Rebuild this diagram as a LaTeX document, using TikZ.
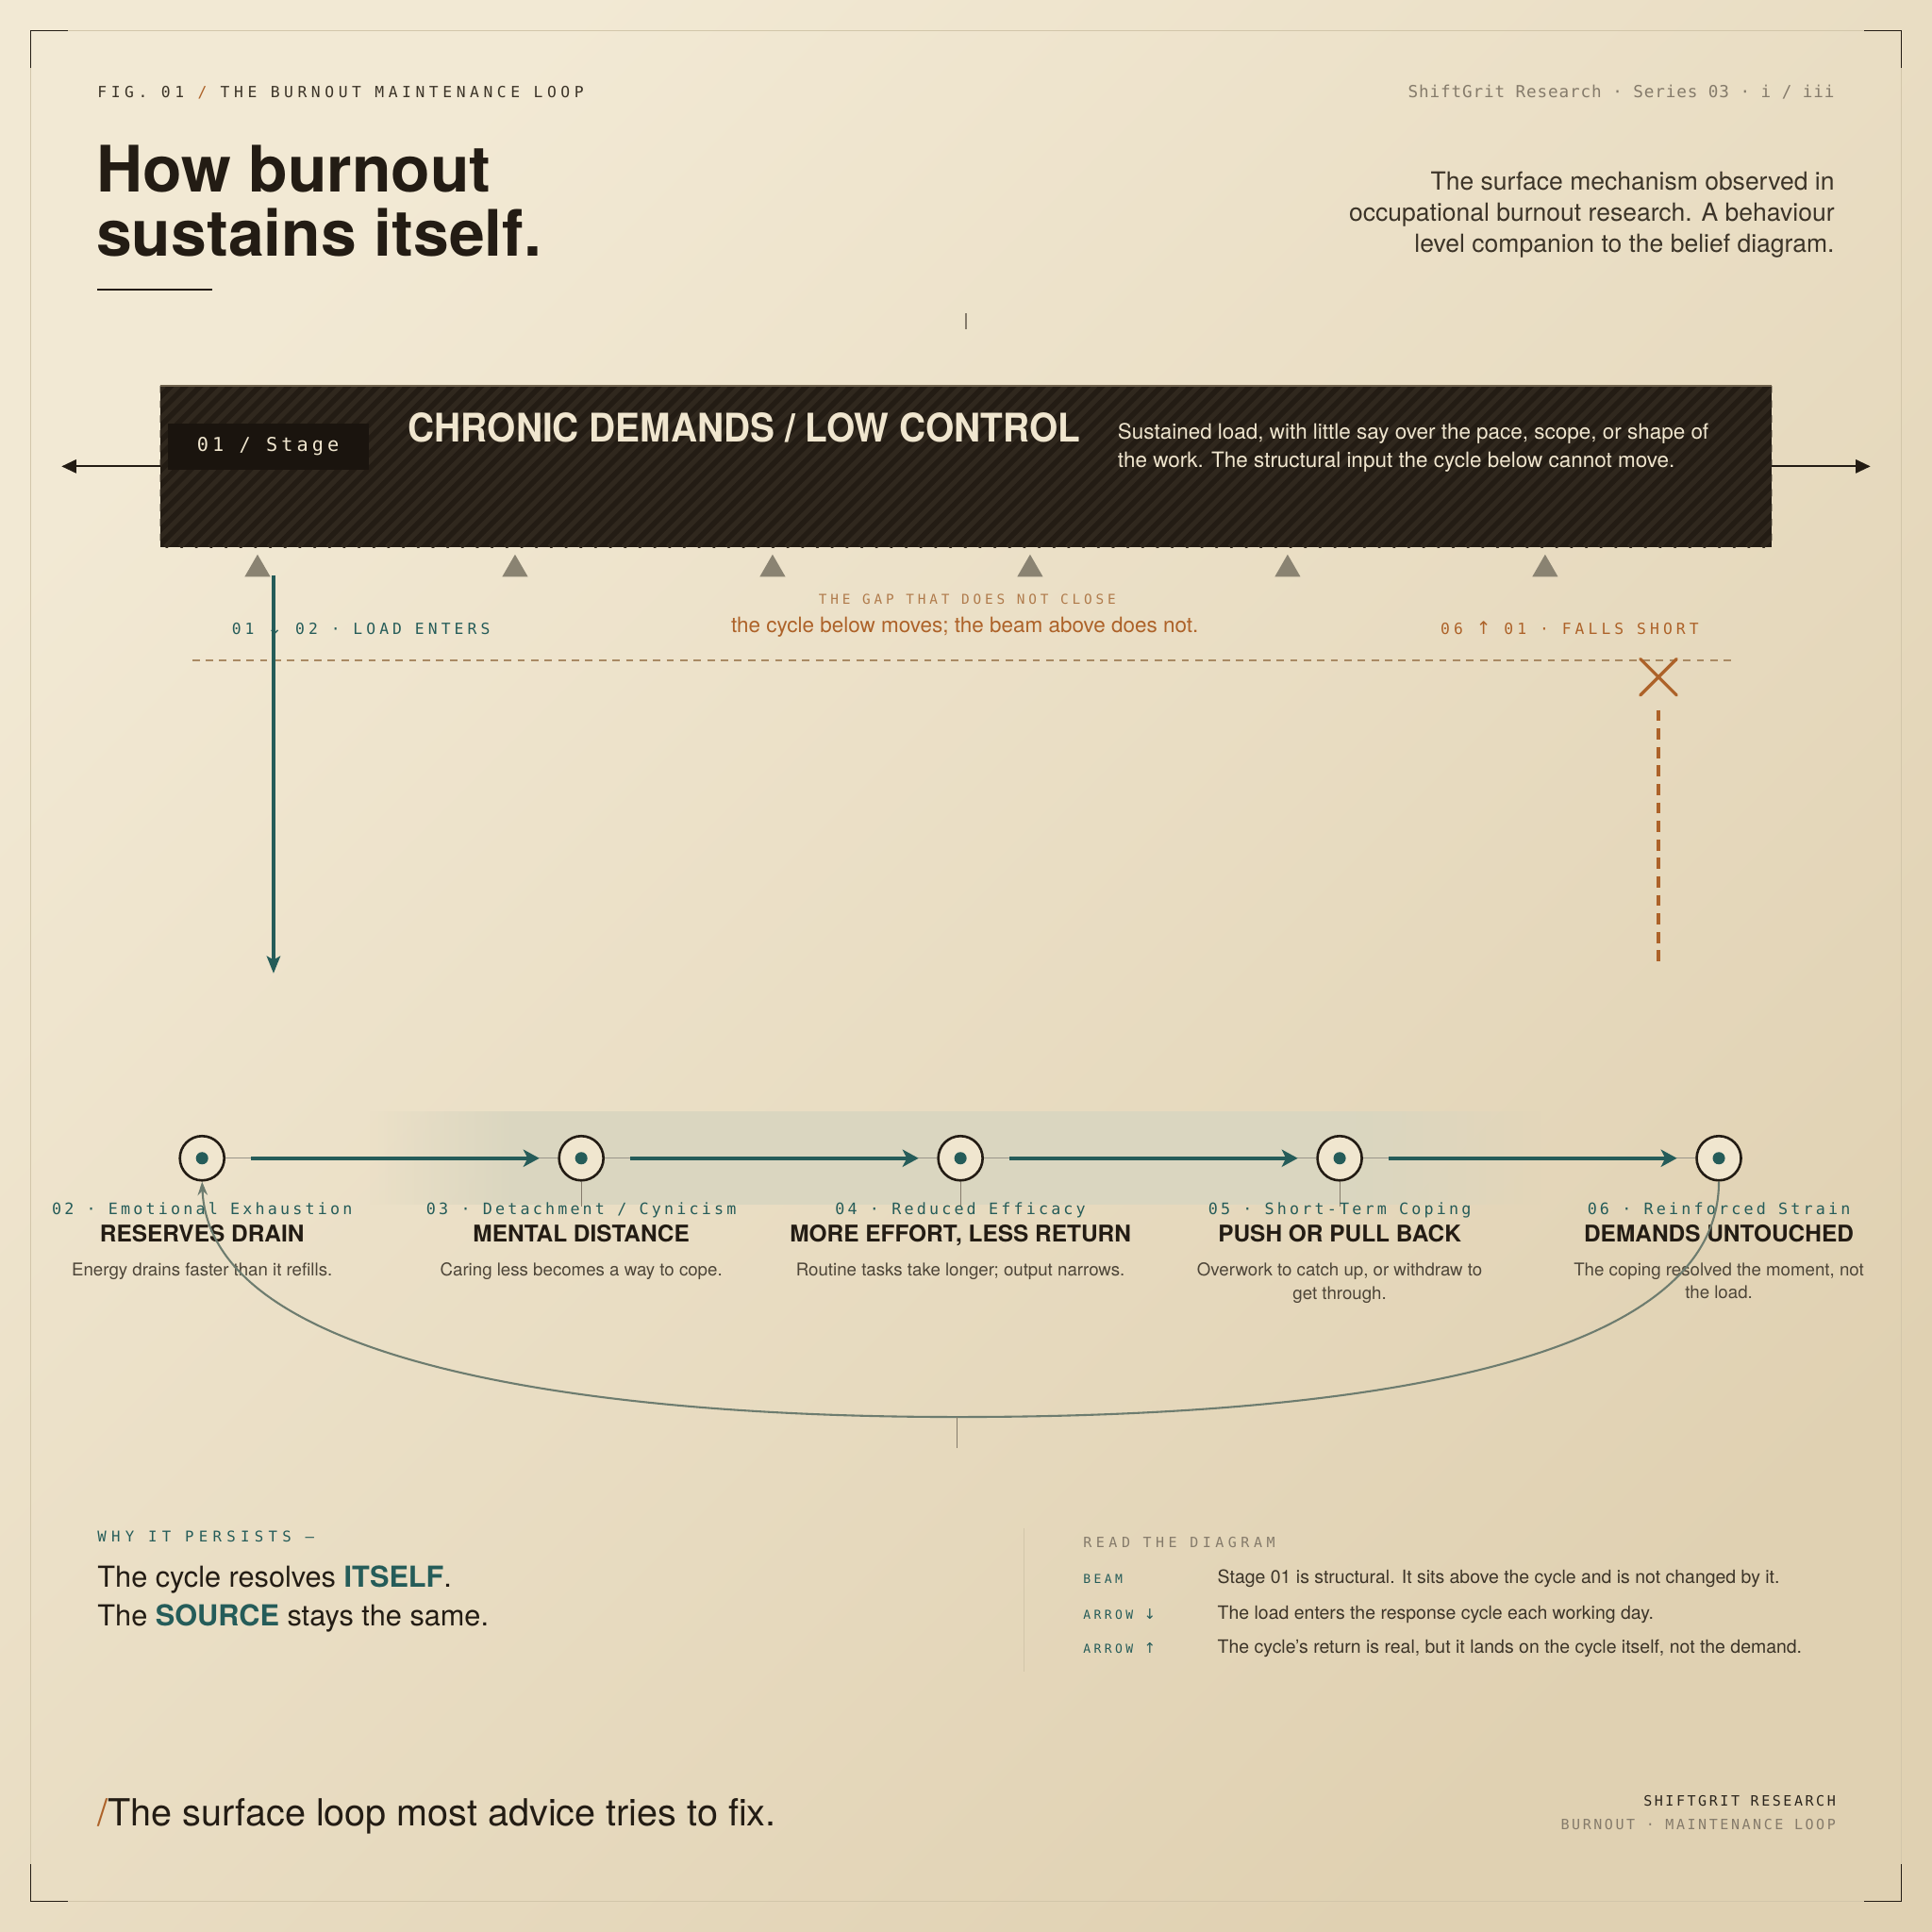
\documentclass[tikz,border=0pt]{standalone}
\usepackage{fontspec}
\setmainfont{TeX Gyre Heros}
\newfontfamily\headfont[FakeStretch=0.93]{TeX Gyre Heros}
\newfontfamily\tagfont{DejaVu Sans Mono}
\newfontfamily\arrowfont{DejaVu Sans}
\newcommand\trk[1]{\addfontfeature{LetterSpace=#1}}
\newcommand\dn{{\arrowfont\fontsize{1.15em}{1em}\selectfont ↓}}
\newcommand\upw{{\arrowfont\fontsize{1.15em}{1em}\selectfont ↑}}
\usetikzlibrary{arrows.meta,positioning,shapes.geometric,shapes.misc,fadings}
\definecolor{bgA}{HTML}{F2E9D4}
\definecolor{bgB}{HTML}{E0D1B2}
\definecolor{ink}{HTML}{231C14}
\definecolor{ink2}{HTML}{2B251D}
\definecolor{cream}{HTML}{F0E6CF}
\definecolor{teal}{HTML}{255C59}
\definecolor{rust}{HTML}{AD6229}
\definecolor{rustsoft}{HTML}{B07B4C}
\definecolor{gapc}{HTML}{A98A64}
\definecolor{peggray}{HTML}{8A8372}
\definecolor{muted}{HTML}{857B6B}
\definecolor{body}{HTML}{3C3428}
\definecolor{soft}{HTML}{4D4538}
\definecolor{railc}{HTML}{9A968A}
\definecolor{loopc}{HTML}{6D7C6F}
\definecolor{framec}{HTML}{D2C6AA}
\definecolor{band}{HTML}{DAD6C0}
\definecolor{stripe}{HTML}{30281E}
\definecolor{stagefill}{HTML}{1A140E}
\definecolor{beamedge}{HTML}{6E614C}
\tikzfading[name=rampin, left color=transparent!100, right color=transparent!0]
\tikzfading[name=rampout, left color=transparent!0, right color=transparent!100]
\begin{document}
\begin{tikzpicture}[x=1pt, y=-1pt, node distance=307.75pt,
    every node/.style={inner sep=0pt},
    stage/.style={circle, draw=ink, line width=2pt, fill=cream, minimum size=36pt,
      path picture={\fill[teal] (path picture bounding box.center) circle (5pt);}},
    flow/.style={teal, line width=3pt, -{Stealth[length=13pt, width=14pt, inset=3.5pt]}, shorten <=21pt, shorten >=15pt},
    rail/.style={draw=railc, line width=1pt},
    peg/.style={regular polygon, regular polygon sides=3, fill=peggray, minimum size=24pt},
    side/.style={ink, line width=1.5pt, -{Triangle[length=12pt, width=11pt]}},
    load/.style={teal, line width=2.5pt, -{Stealth[length=14pt, width=11pt, inset=3pt]}},
    gapline/.style={gapc, line width=1.3pt, dash pattern=on 6pt off 5pt},
    fall/.style={rust, line width=2.5pt, dash pattern=on 9pt off 6pt},
    miss/.style={cross out, draw=rust, line width=2.5pt, line cap=round, minimum size=27pt},
    back/.style={loopc, line width=1.6pt, -{Stealth[length=11pt, width=8pt]}},
    hair/.style={muted, line width=0.8pt},
    tag/.style={font=\tagfont\fontsize{12.8}{15}\selectfont\trk{19}, text=teal, anchor=base},
    stagehead/.style={font=\bfseries\fontsize{18.7}{22}\selectfont, text=ink, anchor=base},
    note/.style={font=\fontsize{14.3}{19}\selectfont, text=soft, anchor=north, align=center},
    key/.style={font=\tagfont\fontsize{10}{12}\selectfont\trk{26}, text=teal, anchor=base west},
    row/.style={font=\fontsize{14.9}{17}\selectfont, text=body, anchor=base west}]
  \useasboundingbox (0,0) rectangle (1568,1568);
  \shade[top color=bgA, bottom color=bgB, shading angle=45] (0,0) rectangle (1568,1568);
  \draw[framec, line width=0.8pt] (25,25) rectangle (1543,1543);
  \draw[ink, line width=1.2pt] (25,55) -- (25,25) -- (55,25) (1513,25) -- (1543,25) -- (1543,55)
    (25,1513) -- (25,1543) -- (55,1543) (1513,1543) -- (1543,1543) -- (1543,1513);

  \node[font=\tagfont\fontsize{12.5}{15}\selectfont\trk{28}, text=body, anchor=base west] (fig) at (79,79) {FIG. 01 \textcolor{rust}{/} THE BURNOUT MAINTENANCE LOOP};
  \node[font=\tagfont\fontsize{13.5}{16}\selectfont\trk{5}, text=muted, anchor=base east] (series) at (1489,79) {ShiftGrit Research · Series 03 · i / iii};
  \node[font=\bfseries\fontsize{52}{52}\selectfont, text=ink, anchor=base west] (title1) at (78,156) {How burnout};
  \node[font=\bfseries\fontsize{52}{52}\selectfont, text=ink, anchor=base west] (title2) at (78,208) {sustains itself.};
  \draw[ink, line width=1pt] (79,235) -- (172,235);
  \node[font=\fontsize{20.3}{25.5}\selectfont, text=body, align=right, anchor=north east] (blurb) at (1489,139) {The surface mechanism observed in\\occupational burnout research. A behaviour\\level companion to the belief diagram.};
  \draw[hair] (784,254) -- (784,267);

  \node[fill=ink, minimum width=1308pt, minimum height=131pt] (beam) at (784,378.5) {};
  \begin{scope}
    \clip (beam.north west) rectangle (beam.south east);
    \foreach \s in {-140,-128,...,1320} \draw[stripe, line width=4pt] (130+\s,444) -- ++(131,-131);
  \end{scope}
  \draw[beamedge, line width=1.5pt] (beam.north west) -- (beam.north east);
  \node[fill=stagefill, minimum width=163pt, minimum height=37pt, font=\tagfont\fontsize{15.5}{18}\selectfont\trk{20}, text=cream] (stage) at (217.5,362.5) {01 / Stage};
  \node[font=\headfont\bfseries\fontsize{32}{36}\selectfont, text=cream, anchor=base west] (demand) at (331,358.5) {CHRONIC DEMANDS / LOW CONTROL};
  \node[font=\fontsize{17.2}{23}\selectfont, text=cream, align=left, anchor=north west] (demandnote) at (907,343.5) {Sustained load, with little say over the pace, scope, or shape of\\the work. The structural input the cycle below cannot move.};
  \coordinate (outL) at (50,378.5);
  \coordinate (outR) at (1518,378.5);
  \draw[side] (beam.west) -- (outL);
  \draw[side] (beam.east) -- (outR);

  \coordinate (gapL) at (156,536);
  \coordinate (gapR) at (1406,536);
  \draw[gapline] (gapL) -- (gapR);
  \coordinate (loadtop) at (222,467);
  \coordinate (loadend) at (222,790);
  \draw[load] (loadtop) -- (loadend);
  \foreach \i in {1,...,6} \node[peg] (peg\i) at (209*\i,462) {};
  \node[font=\tagfont\fontsize{12.5}{15}\selectfont\trk{25}, text=teal, anchor=base west] (enter) at (188,514.5) {01 \dn{} 02 · LOAD ENTERS};
  \node[font=\tagfont\fontsize{11}{13}\selectfont\trk{27}, text=rustsoft, anchor=base] (gaptag) at (785,490) {THE GAP THAT DOES NOT CLOSE};
  \node[font=\fontsize{17.2}{20}\selectfont, text=rust, anchor=base] (gapnote) at (783,513) {the cycle below moves; the beam above does not.};
  \node[font=\tagfont\fontsize{12.5}{15}\selectfont\trk{25}, text=rust, anchor=base west] (short) at (1169,514.5) {06 \upw{} 01 · FALLS SHORT};
  \node[miss] (miss) at (1346,549.5) {};
  \coordinate (fallend) at (1346,785);
  \draw[fall] ([yshift=-12pt]miss.south) -- (fallend);

  \fill[band, path fading=rampin] (300,902) rectangle (420,978);
  \fill[band] (420,902) rectangle (1100,978);
  \fill[band, path fading=rampout] (1100,902) rectangle (1250,978);
  \node[stage] (c1) at (164,940) {};
  \node[stage, right of=c1] (c2) {};
  \node[stage, right of=c2] (c3) {};
  \node[stage, right of=c3] (c4) {};
  \node[stage, right of=c4] (c5) {};
  \draw[rail] (c1) -- (c2) -- (c3) -- (c4) -- (c5);
  \foreach \a/\b in {c1/c2,c2/c3,c3/c4,c4/c5} \draw[flow] (\a) -- (\b);
  \foreach \a in {c2,c3,c4} \draw[hair] (\a.south) -- ++(0,20);
  \foreach \n/\tg/\hd/\nt in {1/{02 · Emotional Exhaustion}/{RESERVES DRAIN}/{Energy drains faster than it refills.},
      2/{03 · Detachment / Cynicism}/{MENTAL DISTANCE}/{Caring less becomes a way to cope.},
      3/{04 · Reduced Efficacy}/{MORE EFFORT, LESS RETURN}/{Routine tasks take longer; output narrows.},
      4/{05 · Short-Term Coping}/{PUSH OR PULL BACK}/{Overwork to catch up, or withdraw to\\get through.},
      5/{06 · Reinforced Strain}/{DEMANDS UNTOUCHED}/{The coping resolved the moment, not\\the load.}} {
    \node[tag] (tag\n) at (c\n |- 0,985.5) {\tg};
    \node[stagehead] (head\n) at (c\n |- 0,1008) {\hd};
    \node[note] (note\n) at (c\n |- 0,1024.5) {\nt};
  }
  \coordinate (loopmid) at (777,1150);
  \draw[back] (c5.south) .. controls (1395,1110) and (1090,1150) .. (loopmid) .. controls (470,1150) and (170,1105) .. (c1.south);
  \draw[hair] (loopmid) -- ++(0,25);

  \node[font=\tagfont\fontsize{12}{14}\selectfont\trk{34}, text=teal, anchor=base west] (why) at (79,1251.5) {WHY IT PERSISTS —};
  \node[font=\fontsize{23.5}{31}\selectfont, text=ink, anchor=base west] (why1) at (79,1288.5) {The cycle resolves \textcolor{teal}{\bfseries ITSELF}.};
  \node[font=\fontsize{23.5}{31}\selectfont, text=ink, anchor=base west] (why2) at (79,1319.5) {The \textcolor{teal}{\bfseries SOURCE} stays the same.};
  \draw[framec, line width=1pt] (831,1240) -- (831,1357);
  \node[font=\tagfont\fontsize{11.5}{14}\selectfont\trk{30}, text=muted, anchor=base west] (read) at (879,1256) {READ THE DIAGRAM};
  \foreach \k/\y/\a/\b in {1/1285/BEAM/{Stage 01 is structural. It sits above the cycle and is not changed by it.},
      2/1314/{ARROW \dn}/{The load enters the response cycle each working day.},
      3/1342/{ARROW \upw}/{The cycle's return is real, but it lands on the cycle itself, not the demand.}} {
    \node[key] (key\k) at (879,\y) {\a};
    \node[row] (row\k) at (988,\y) {\b};
  }

  \node[font=\fontsize{30.3}{34}\selectfont, text=ink, anchor=base west] (motto) at (79,1482) {\textcolor{rust}{/}The surface loop most advice tries to fix.};
  \node[font=\tagfont\fontsize{11.5}{14}\selectfont\trk{17}, text=ink2, anchor=base east] (brand) at (1490,1466) {SHIFTGRIT RESEARCH};
  \node[font=\tagfont\fontsize{11.5}{14}\selectfont\trk{17}, text=muted, anchor=base east] (brandsub) at (1490,1485) {BURNOUT · MAINTENANCE LOOP};
\end{tikzpicture}
\end{document}
